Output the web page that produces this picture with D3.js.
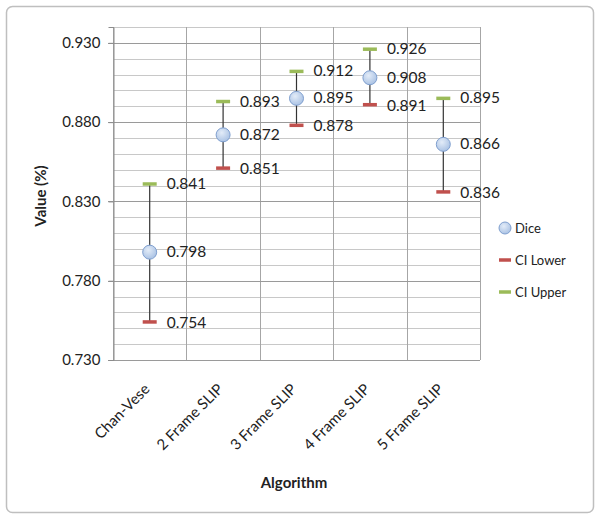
<!DOCTYPE html>
<html>
<head>
<meta charset="utf-8">
<script src="https://cdn.jsdelivr.net/npm/d3@7"></script>
<style>
  body { margin: 0; background: #fff; }
  text { font-family: Lato, "Open Sans", sans-serif; fill: #222; }
</style>
</head>
<body>
<svg id="chart" width="600" height="519"></svg>
<script>
var categories = ["Chan-Vese", "2 Frame SLIP", "3 Frame SLIP", "4 Frame SLIP", "5 Frame SLIP"];
var dice = [0.798, 0.872, 0.895, 0.908, 0.866];
var ciLower = [0.754, 0.851, 0.878, 0.891, 0.836];
var ciUpper = [0.841, 0.893, 0.912, 0.926, 0.895];
var yTicks = [0.73, 0.78, 0.83, 0.88, 0.93];
var legendNames = ["Dice", "CI Lower", "CI Upper"];

var red = "#c0504d", green = "#9bbb59";

var svg = d3.select("#chart");

// outer frame
svg.append("rect").attr("x", 6.5).attr("y", 6.5).attr("width", 587).attr("height", 506)
  .attr("rx", 6).attr("fill", "#fff").attr("stroke", "#bfbfbf").attr("stroke-width", 1.5);

var defs = svg.append("defs");
var grad = defs.append("radialGradient").attr("id", "dot").attr("cx", "40%").attr("cy", "35%").attr("r", "70%");
grad.append("stop").attr("offset", "0%").attr("stop-color", "#e3ecf8");
grad.append("stop").attr("offset", "100%").attr("stop-color", "#a7c0e3");

var pLeft = 113, pRight = 480, pTop = 27, pBottom = 360;

var x = d3.scaleBand().domain(categories).range([pLeft, pRight]);
var y = d3.scaleLinear().domain([0.73, 0.94]).range([pBottom, pTop]);

var grid = svg.append("g");
// minor lines every 0.01
d3.range(73, 95).forEach(function(v) {
  var val = v / 100;
  if (yTicks.some(function(t) { return Math.abs(t - val) < 1e-6; })) return;
  grid.append("line").attr("x1", pLeft).attr("x2", pRight)
    .attr("y1", Math.round(y(val)) + 0.5).attr("y2", Math.round(y(val)) + 0.5)
    .attr("stroke", "#c8c8c8").attr("stroke-width", 1);
});
// vertical category lines
d3.range(categories.length + 1).forEach(function(i) {
  var xv = Math.round(pLeft + i * x.bandwidth()) + 0.5;
  grid.append("line").attr("x1", xv).attr("x2", xv).attr("y1", pTop).attr("y2", pBottom)
    .attr("stroke", "#a6a6a6");
});
// major lines
yTicks.forEach(function(t) {
  grid.append("line").attr("x1", pLeft - 5).attr("x2", pRight)
    .attr("y1", Math.round(y(t)) + 0.5).attr("y2", Math.round(y(t)) + 0.5)
    .attr("stroke", "#9a9a9a");
});

// y axis
var yAxis = svg.append("g").attr("transform", "translate(" + (pLeft + 0.5) + ",0)")
  .call(d3.axisLeft(y).tickValues(yTicks).tickFormat(d3.format(".3f")).tickSize(5).tickPadding(8));
yAxis.select(".domain").attr("stroke", "#8c8c8c");
yAxis.selectAll(".tick line").attr("stroke", "#8c8c8c");
yAxis.selectAll("text").attr("font-size", 15).attr("fill", "#222")
  .style("font-family", "Lato, 'Open Sans', sans-serif");

// x axis labels
var xl = svg.append("g");
categories.forEach(function(c) {
  var cx = x(c) + x.bandwidth() / 2 + 1;
  xl.append("text").attr("transform", "translate(" + cx + "," + (pBottom + 30) + ") rotate(-45)")
    .attr("text-anchor", "end").attr("font-size", 15).text(c);
});

svg.append("text").attr("x", 294).attr("y", 488).attr("text-anchor", "middle")
  .attr("font-size", 15).attr("font-weight", "bold").text("Algorithm");
svg.append("text").attr("transform", "translate(46,196) rotate(-90)").attr("text-anchor", "middle")
  .attr("font-size", 15).attr("font-weight", "bold").text("Value (%)");

// error bars
var marks = svg.append("g");
categories.forEach(function(c, i) {
  var cx = x(c) + x.bandwidth() / 2;
  marks.append("line").attr("x1", cx).attr("x2", cx).attr("y1", y(ciLower[i])).attr("y2", y(ciUpper[i]))
    .attr("stroke", "#333").attr("stroke-width", 1.2);
  marks.append("line").attr("x1", cx - 7).attr("x2", cx + 7).attr("y1", y(ciLower[i])).attr("y2", y(ciLower[i]))
    .attr("stroke", red).attr("stroke-width", 3.5);
  marks.append("line").attr("x1", cx - 7).attr("x2", cx + 7).attr("y1", y(ciUpper[i])).attr("y2", y(ciUpper[i]))
    .attr("stroke", green).attr("stroke-width", 3.5);
  marks.append("circle").attr("cx", cx).attr("cy", y(dice[i])).attr("r", 7)
    .attr("fill", "url(#dot)").attr("stroke", "#7f9fcf").attr("stroke-width", 1);

  [[ciLower[i], 6], [dice[i], 5], [ciUpper[i], 5]].forEach(function(p) {
    marks.append("text").attr("x", cx + 17).attr("y", y(p[0]) + p[1])
      .attr("font-size", 15.5).text(d3.format(".3f")(p[0]));
  });
});

// legend
var lg = svg.append("g").attr("transform", "translate(505,228)");
legendNames.forEach(function(n, i) {
  var g = lg.append("g").attr("transform", "translate(0," + (i * 32) + ")");
  if (i === 0) {
    g.append("circle").attr("cx", 0).attr("cy", 0).attr("r", 6)
      .attr("fill", "url(#dot)").attr("stroke", "#7f9fcf");
  } else {
    g.append("line").attr("x1", -6).attr("x2", 6).attr("y1", 0).attr("y2", 0)
      .attr("stroke", i === 1 ? red : green).attr("stroke-width", 3.5);
  }
  g.append("text").attr("x", 10).attr("y", 5).attr("font-size", 13).text(n);
});
</script>
</body>
</html>
